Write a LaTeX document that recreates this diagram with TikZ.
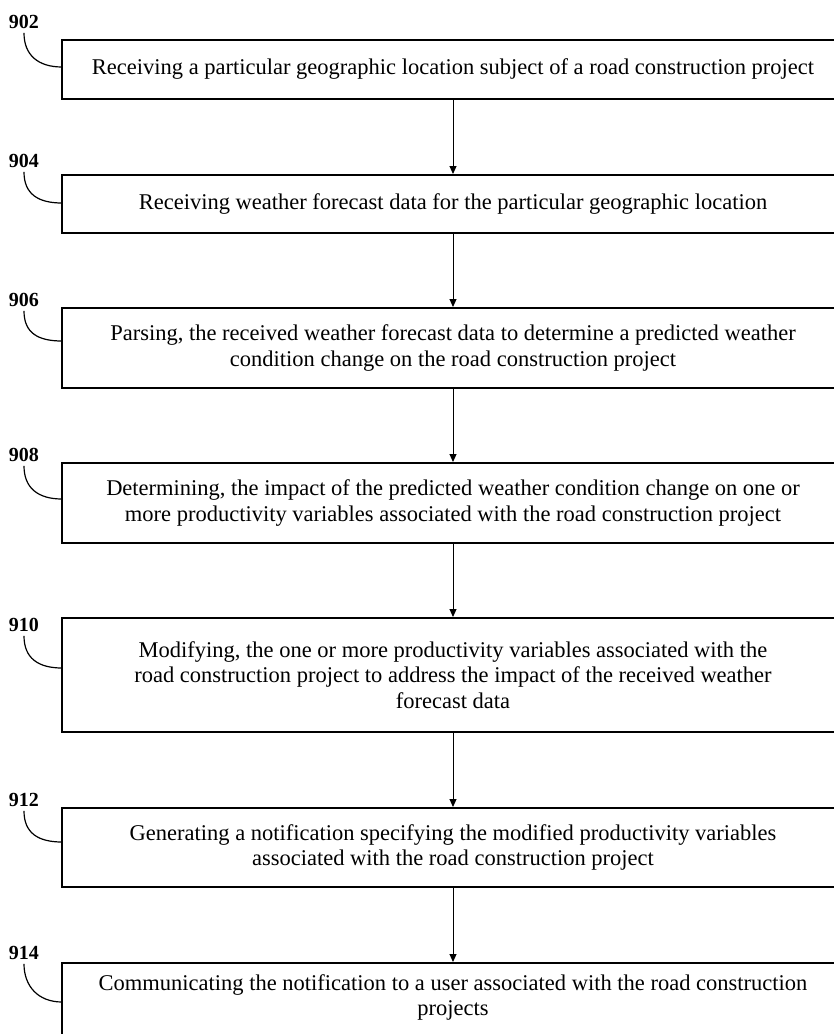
\documentclass[tikz,border=0pt]{standalone}
\usepackage{fontspec}
\setmainfont{Liberation Serif}
\usetikzlibrary{arrows.meta}

\begin{document}
\begin{tikzpicture}[x=1pt,y=-1pt,
  stepbox/.style={draw=black, line width=2pt, minimum width=782pt, inner sep=0pt,
    align=center, font=\fontsize{22.5}{25.5}\selectfont},
  reflabel/.style={font=\bfseries\fontsize{20}{22}\selectfont, inner sep=0pt},
  leader/.style={line width=1.2pt},
  flow/.style={line width=1pt, -{Triangle[width=7pt,length=8pt]}}
]
\useasboundingbox (0,0) rectangle (834,1034);

% process steps
\node[stepbox, minimum height=59pt] (s902) at (453,69.5)
  {Receiving a particular geographic location subject of a road construction project};
\node[stepbox, minimum height=58pt] (s904) at (453,204)
  {Receiving weather forecast data for the particular geographic location};
\node[stepbox, minimum height=80pt] (s906) at (453,348)
  {Parsing, the received weather forecast data to determine a predicted weather\\condition change on the road construction project};
\node[stepbox, minimum height=80pt] (s908) at (453,503)
  {Determining, the impact of the predicted weather condition change on one or\\more productivity variables associated with the road construction project};
\node[stepbox, minimum height=114pt] (s910) at (453,675)
  {Modifying, the one or more productivity variables associated with the\\road construction project to address the impact of the received weather\\forecast data};
\node[stepbox, minimum height=79pt] (s912) at (453,847.5)
  {Generating a notification specifying the modified productivity variables\\associated with the road construction project};
\node[stepbox, minimum height=80pt, text depth=16pt] (s914) at (453,1003)
  {Communicating the notification to a user associated with the road construction\\projects};

% flow arrows
\draw[flow] (s902.south) -- (s904.north);
\draw[flow] (s904.south) -- (s906.north);
\draw[flow] (s906.south) -- (s908.north);
\draw[flow] (s908.south) -- (s910.north);
\draw[flow] (s910.south) -- (s912.north);
\draw[flow] (s912.south) -- (s914.north);

% reference numerals with their leader lines
\foreach \n/\ly/\ey in {902/22/67, 904/161/203, 906/300/341, 908/455/499,
                        910/625/668, 912/800/842, 914/953/1002} {
  \node[reflabel] (r\n) at (24,\ly) {\n};
  \coordinate (e\n) at (62,\ey);
  \draw[leader] ([yshift=-4pt]r\n.south) .. controls ++(0,22) and ++(-24,0) .. (e\n);
}
\end{tikzpicture}
\end{document}
